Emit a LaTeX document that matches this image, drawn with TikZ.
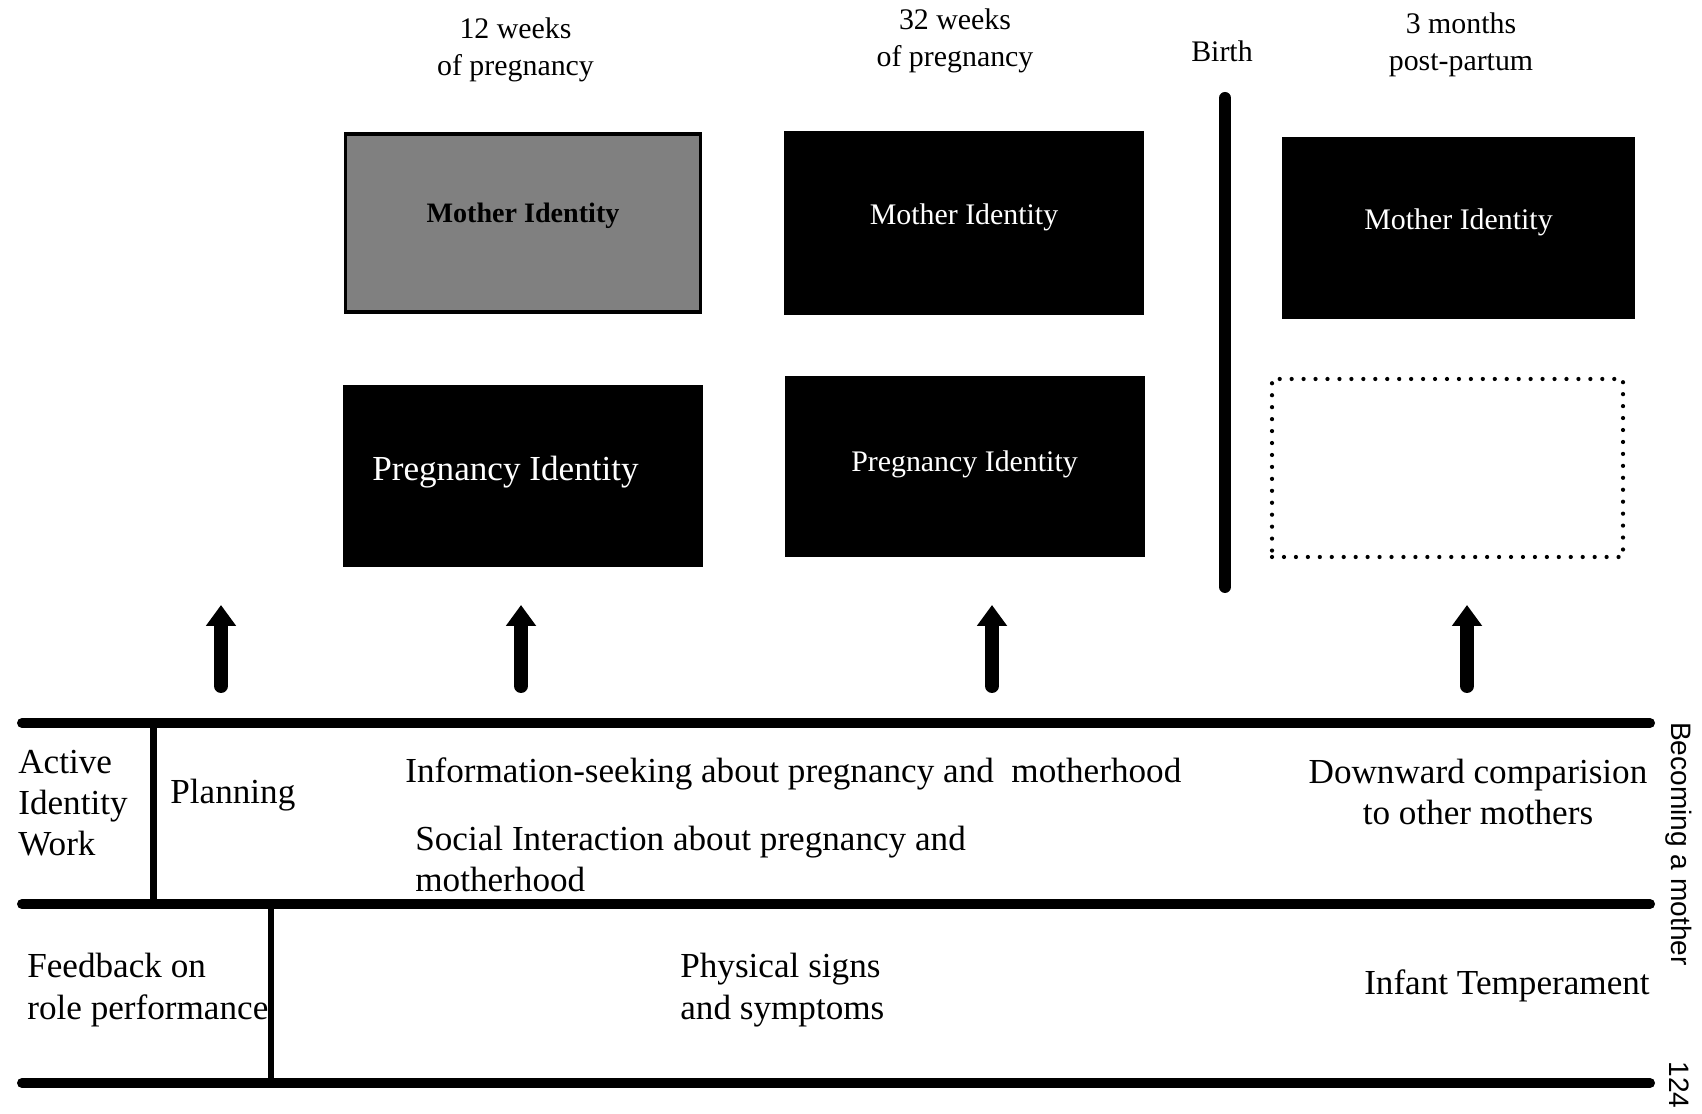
\documentclass[tikz,border=0pt]{standalone}
\usepackage{fontspec}
\setmainfont{Liberation Serif}
\setsansfont{Liberation Sans}
\usetikzlibrary{arrows.meta}

\begin{document}
\begin{tikzpicture}[>={Triangle[length=0.42cm, width=0.58cm]},
    timelabel/.style={font=\fontsize{17}{21}\selectfont, align=center, inner sep=0pt},
    darkbox/.style={fill=black, text=white, text depth=10.5pt, minimum width=7.2cm, minimum height=3.64cm, font=\fontsize{17}{20}\selectfont},
    graybox/.style={fill=black!50, draw=black, line width=2.2pt, text depth=11.5pt, minimum width=7.1cm, minimum height=3.56cm, font=\bfseries\fontsize{16}{19}\selectfont},
    emptybox/.style={draw=black, line width=2.4pt, dash pattern=on 0pt off 6.8pt, line cap=round, minimum width=7.02cm, minimum height=3.56cm},
    rule/.style={line width=0.2cm, line cap=round},
    up/.style={->, line width=0.28cm, line cap=round},
    celltext/.style={font=\fontsize{20}{23.5}\selectfont, align=left, inner sep=0pt},
    sidetext/.style={font=\sffamily\fontsize{16}{19}\selectfont, rotate=-90, inner sep=0pt}]
    % 画面范围
    \useasboundingbox (0,0) rectangle (34.04,22.26);

    % 时间点
    \node[timelabel] (t12) at (10.31,21.26) {12 weeks\\of pregnancy};
    \node[timelabel] (t32) at (19.10,21.44) {32 weeks\\of pregnancy};
    \node[timelabel] (tbirth) at (24.44,21.24) {Birth};
    \node[timelabel] (t3m) at (29.22,21.37) {3 months\\post-partum};

    % 身份方框 (12周, 32周, 产后3个月)
    \node[graybox] (mother1) at (10.46,17.80) {Mother Identity};
    \node[darkbox, text depth=8.5pt, font=\fontsize{20}{24}\selectfont] (preg1) at (10.46,12.74) {Pregnancy Identity\hspace*{0.7cm}};
    \node[darkbox, minimum height=3.68cm] (mother2) at (19.28,17.80) {Mother Identity};
    \node[darkbox, text depth=6.5pt, minimum height=3.62cm] (preg2) at (19.29,12.93) {Pregnancy Identity};
    \node[darkbox, minimum width=7.06cm] (mother3) at (29.17,17.70) {Mother Identity};
    \node[emptybox] (empty3) at (28.95,12.90) {};

    % 出生分界线
    \coordinate (birthtop) at (24.50,20.30);
    \coordinate (birthbot) at (24.50,10.52);
    \draw[line width=0.24cm, line cap=round] (birthtop) -- (birthbot);

    % 向上的箭头
    \coordinate (base1) at (4.42,8.54);  \coordinate (tip1) at (4.42,10.16);
    \coordinate (base2) at (10.42,8.54); \coordinate (tip2) at (10.42,10.16);
    \coordinate (base3) at (19.84,8.54); \coordinate (tip3) at (19.84,10.16);
    \coordinate (base4) at (29.34,8.54); \coordinate (tip4) at (29.34,10.16);
    \draw[up] (base1) -- (tip1);
    \draw[up] (base2) -- (tip2);
    \draw[up] (base3) -- (tip3);
    \draw[up] (base4) -- (tip4);

    % 表格横线
    \coordinate (row1l) at (0.44,7.80); \coordinate (row1r) at (33.0,7.80);
    \coordinate (row2l) at (0.44,4.18); \coordinate (row2r) at (33.0,4.18);
    \coordinate (row3l) at (0.44,0.60); \coordinate (row3r) at (33.0,0.60);
    \draw[rule] (row1l) -- (row1r);
    \draw[rule] (row2l) -- (row2r);
    \draw[rule] (row3l) -- (row3r);

    % 第一行: Active Identity Work
    \node[celltext, anchor=west] (active) at (0.36,6.20) {Active\\Identity\\Work};
    \node[celltext, anchor=west] (plan) at (3.40,6.36) {Planning};
    \node[celltext, anchor=west] (info) at (8.10,6.78) {Information-seeking about pregnancy and\ \ motherhood};
    \node[celltext, anchor=west] (social) at (8.30,5.08) {Social Interaction about pregnancy and\\motherhood};
    \node[celltext, align=center] (downward) at (29.56,6.42) {Downward comparision\\to other mothers};

    % 第二行: Feedback
    \node[celltext, anchor=west] (feedback) at (0.54,2.46) {Feedback on\\role performance};
    \node[celltext, anchor=west] (physical) at (13.60,2.46) {Physical signs\\and symptoms};
    \node[celltext, anchor=east] (infant) at (33.0,2.54) {Infant Temperament};

    % 竖线
    \coordinate (v1top) at (3.06,7.80); \coordinate (v1bot) at (3.06,4.18);
    \coordinate (v2top) at (5.42,4.18); \coordinate (v2bot) at (5.42,0.60);
    \draw[line width=0.14cm] (v1top) -- (v1bot);
    \draw[line width=0.12cm] (v2top) -- (v2bot);

    % 右侧竖排文字
    \node[sidetext] (becoming) at (33.58,5.38) {Becoming a mother};
    \node[sidetext] (pagenum) at (33.58,0.56) {124};
\end{tikzpicture}
\end{document}
